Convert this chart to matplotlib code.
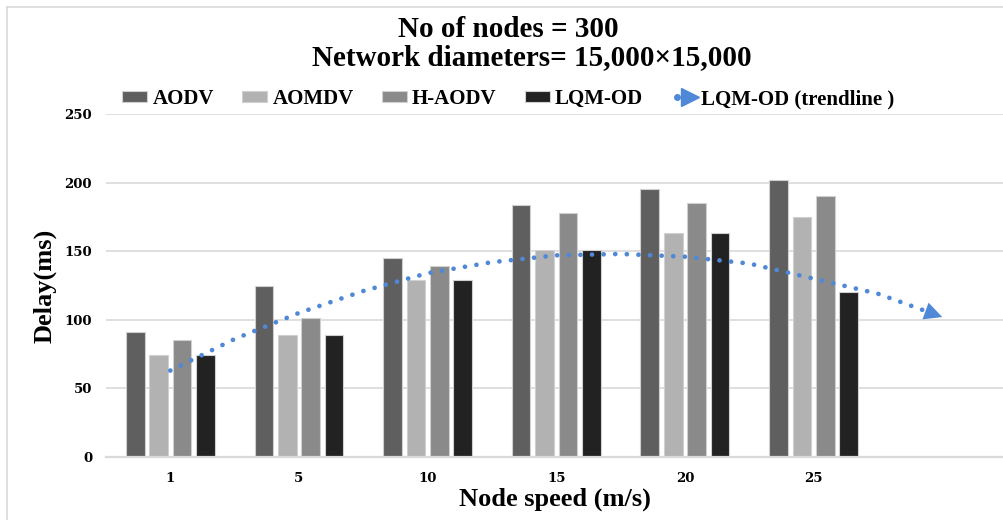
import matplotlib
matplotlib.use("Agg")
import matplotlib.pyplot as plt
from matplotlib.lines import Line2D
from matplotlib.legend_handler import HandlerTuple
import numpy as np

speeds = ["1", "5", "10", "15", "20", "25", ""]
aodv = [91, 125, 145, 184, 195, 202]
aomdv = [74, 89, 129, 151, 163, 175]
h_aodv = [85, 101, 139, 178, 185, 190]
lqm_od = [74, 89, 129, 151, 163, 120]

# trendline at half-category steps
trend_x = [0, 0.5, 1, 1.5, 2, 2.5, 3, 3.5, 4, 4.5, 5, 5.5, 6]
trend_y = [63, 86, 105, 121, 134, 142, 147, 148, 146, 141, 130, 119, 102]

series = [("AODV", aodv, "#5f5f5f"),
          ("AOMDV", aomdv, "#b2b2b2"),
          ("H-AODV", h_aodv, "#8a8a8a"),
          ("LQM-OD", lqm_od, "#222222")]
trend_color = "#4f88d6"

plt.rcParams["font.family"] = ["Liberation Serif", "DejaVu Serif"]
plt.rcParams["font.weight"] = "bold"

fig = plt.figure(figsize=(10.04, 5.2), dpi=100)
ax = fig.add_axes([106 / 1004, 1 - 457 / 520, 898 / 1004, 343 / 520])

x = np.arange(len(aodv))
slot = 0.182
width = 0.145
for i, (name, vals, col) in enumerate(series):
    ax.bar(x + (i - 1.5) * slot, vals, width, color=col, edgecolor="#d0d0d0",
           linewidth=0.8, label=name, zorder=2)

ax.plot(trend_x, trend_y, color=trend_color, lw=3.4,
        ls=(0, (0.01, 2.45)), dash_capstyle="round", zorder=3)
ax.annotate("", xy=(trend_x[-1], trend_y[-1]), xytext=(trend_x[-2], trend_y[-2]),
            arrowprops=dict(arrowstyle="-|>", color=trend_color, lw=0,
                            mutation_scale=32, shrinkA=0, shrinkB=0), zorder=4)

ax.set_xlim(-0.5, 6.48)
ax.set_ylim(0, 250)
ax.set_yticks([0, 50, 100, 150, 200, 250])
ax.set_xticks(np.arange(len(speeds)))
ax.set_xticklabels(speeds)
ax.grid(axis="y", color="#d9d9d9", lw=1.2, zorder=0)
ax.set_axisbelow(True)
for s in ["top", "right", "left"]:
    ax.spines[s].set_visible(False)
ax.spines["bottom"].set_color("#d9d9d9")
ax.spines["bottom"].set_linewidth(1.6)
ax.tick_params(axis="y", length=0, pad=10)
ax.tick_params(axis="x", length=0, pad=11)
for lab in ax.get_xticklabels() + ax.get_yticklabels():
    lab.set_fontweight("bold")
    lab.set_fontfamily("DejaVu Serif")
    lab.set_fontsize(9.5)

ax.set_xlabel("Node speed (m/s)", fontsize=19, fontweight="bold", labelpad=2)
ax.set_ylabel("Delay(ms)", fontsize=19, fontweight="bold", labelpad=6)

fig.text(0.506, 1 - 37 / 520, "No of nodes = 300", ha="center", va="baseline",
         fontsize=21, fontweight="bold")
fig.text(0.53, 1 - 65 / 520, "Network diameters= 15,000\u00d715,000", ha="center",
         va="baseline", fontsize=21, fontweight="bold")

handles, labels = ax.get_legend_handles_labels()
dot = Line2D([], [], color=trend_color, marker="o", ls="none", markersize=4)
tri = Line2D([], [], color=trend_color, marker=">", ls="none", markersize=13)
handles.append((dot, tri))
labels.append("LQM-OD (trendline )")
fig.legend(handles, labels, ncol=5, loc="center", bbox_to_anchor=(0.5065, 1 - 99 / 520),
           frameon=False, prop={"size": 15, "weight": "bold"},
           handlelength=1.2, handleheight=0.45, handletextpad=0.25, columnspacing=1.35,
           handler_map={tuple: HandlerTuple(ndivide=None, pad=0)})

# chart area border
fig.add_artist(plt.Line2D([7 / 1004, 7 / 1004], [0, 1 - 7 / 520], color="#d9d9d9", lw=1.2))
fig.add_artist(plt.Line2D([7 / 1004, 1], [1 - 7 / 520, 1 - 7 / 520], color="#d9d9d9", lw=1.2))

fig.savefig("out.png", dpi=100)
